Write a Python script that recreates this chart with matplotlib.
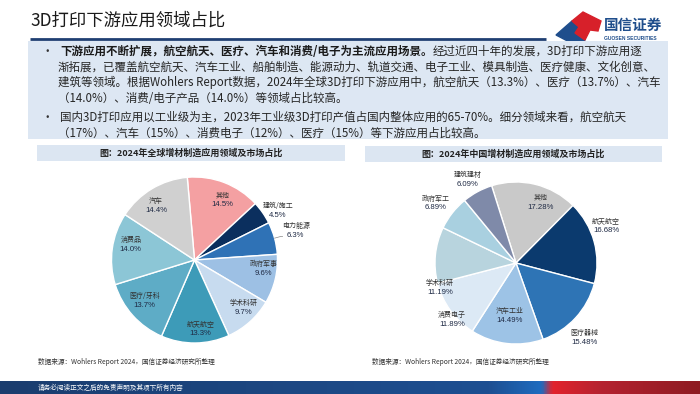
import numpy as np
import matplotlib
matplotlib.use("Agg")
import matplotlib.pyplot as plt
from matplotlib.colors import LinearSegmentedColormap
from matplotlib.patches import Rectangle, Polygon

plt.rcParams['font.family'] = ['Noto Sans CJK SC', 'DejaVu Sans']
CJK = ['Noto Sans CJK SC', 'DejaVu Sans']
NUM = ['Liberation Sans', 'DejaVu Sans']

# 全球 2024
g_names = ["其他", "建筑/施工", "电力能源", "政府军事", "学术科研", "航天航空", "医疗/牙科", "消费品", "汽车"]
g_values = [14.5, 4.5, 6.3, 9.6, 9.7, 13.3, 13.7, 14.0, 14.4]
g_colors = ["#f4a0a2", "#0b2f5e", "#2f72b6", "#9dc0e4", "#c7dbef", "#3d9bb8", "#5eacc6", "#8cc6d6", "#d0d0d0"]

# 中国 2024
c_names = ["其他", "航天航空", "医疗器械", "汽车工业", "消费电子", "学术科研", "政府军工", "建筑建材"]
c_values = [17.28, 16.68, 15.48, 14.49, 11.89, 11.19, 6.89, 6.09]
c_colors = ["#c9c9c9", "#0b3a6e", "#2e74b5", "#9dc3e6", "#dce9f5", "#b8d4de", "#a9d0e0", "#7f8aa9"]

title = "3D打印下游应用领域占比"
g_title = "图：2024年全球增材制造应用领域及市场占比"
c_title = "图：2024年中国增材制造应用领域及市场占比"
source = "数据来源：Wohlers Report 2024，国信证券经济研究所整理"
footer = "请务必阅读正文之后的免责声明及其项下所有内容"

bullet1_bold = "下游应用不断扩展，航空航天、医疗、汽车和消费/电子为主流应用场景。"
bullet1 = ["经过近四十年的发展，3D打印下游应用逐",
           "渐拓展，已覆盖航空航天、汽车工业、船舶制造、能源动力、轨道交通、电子工业、模具制造、医疗健康、文化创意、",
           "建筑等领域。根据Wohlers Report数据，2024年全球3D打印下游应用中，航空航天（13.3%）、医疗（13.7%）、汽车",
           "（14.0%）、消费/电子产品（14.0%）等领域占比较高。"]
bullet2 = ["国内3D打印应用以工业级为主，2023年工业级3D打印产值占国内整体应用的65-70%。细分领域来看，航空航天",
           "（17%）、汽车（15%）、消费电子（12%）、医疗（15%）等下游应用占比较高。"]

W, H = 700, 394
fig = plt.figure(figsize=(7, 3.94), dpi=100)
bg = fig.add_axes([0, 0, 1, 1])
bg.set_xlim(0, W)
bg.set_ylim(H, 0)
bg.axis('off')

# header
bg.text(30, 21, title, fontsize=12.5, weight='medium', color='#1a1a1a', va='center')
bg.plot([30, 546], [38.5, 38.5], color='#1f3f72', lw=2, solid_capstyle='butt')
bg.add_patch(Polygon([(556, 35), (572, 21), (579, 27), (575, 33), (585, 40), (579, 47)], color='#1f4e8c'))
bg.add_patch(Polygon([(572, 21), (583, 12), (601, 21), (598, 31), (590, 30), (585, 40), (575, 33), (579, 27)], color='#d7202a'))
bg.text(604, 25, "国信证券", fontsize=10.5, weight='bold', color='#1f4e8c', va='center')
bg.text(604, 38, "GUOSEN SECURITIES", fontsize=3.6, weight='bold', color='#1f4e8c', va='center', family=NUM)

# bullet box
bg.add_patch(Rectangle((28, 41), 640, 98, color='#dde7f3', lw=0))
fs = 8.3
ys1 = [51, 67, 82.5, 98]
bg.text(42, ys1[0], "•", fontsize=fs, va='center', color='#333333')
t1 = bg.text(60, ys1[0], bullet1_bold, fontsize=fs, weight='bold', va='center', color='#1a1a1a')
bg.annotate(bullet1[0], xy=(1, 0.5), xycoords=t1, va='center', ha='left', fontsize=fs, color='#262626')
for y, line in zip(ys1[1:], bullet1[1:]):
    bg.text(58, y, line, fontsize=fs, va='center', color='#262626')
ys2 = [117.5, 133]
bg.text(42, ys2[0], "•", fontsize=fs, va='center', color='#333333')
for y, line in zip(ys2, bullet2):
    bg.text(60 if y == ys2[0] else 58, y, line, fontsize=fs, va='center', color='#262626')

# chart titles
bg.add_patch(Rectangle((37, 145), 308, 16, color='#dce6f2', lw=0))
bg.text(191, 153, g_title, fontsize=6.5, weight='bold', ha='center', va='center', color='#222222')
bg.add_patch(Rectangle((365, 146), 297, 16, color='#dce6f2', lw=0))
bg.text(513, 154, c_title, fontsize=6.5, weight='bold', ha='center', va='center', color='#222222')

bg.text(38, 362, source, fontsize=4.8, va='center', color='#333333')
bg.text(372, 362, source, fontsize=4.8, va='center', color='#333333')

# footer bar
cmap = LinearSegmentedColormap.from_list('ft', [(0, '#1b3d6e'), (0.70, '#1d4f92'), (0.775, '#1f6cc0'),
                                                (0.79, '#e3232c'), (0.86, '#b52230'), (1.0, '#8e1b22')])
bg.imshow(np.linspace(0, 1, 256).reshape(1, -1), cmap=cmap, aspect='auto', extent=(0, W, 394, 381), zorder=1)
bg.text(38, 387.5, footer, fontsize=4.8, va='center', color='white', zorder=2)
bg.set_xlim(0, W)
bg.set_ylim(H, 0)


def draw_pie(cx, cy, r, names, values, colors, start, fmt, lab_r, lab_da, leader=None):
    L = 1.6
    size = 2 * L * r
    ax = fig.add_axes([(cx - size / 2) / W, (H - cy - size / 2) / H, size / W, size / H])
    ax.pie(values, colors=colors, startangle=start, counterclock=False, radius=1,
           wedgeprops=dict(edgecolor='white', linewidth=1.0))
    ax.set_xlim(-L, L)
    ax.set_ylim(-L, L)
    ax.set_aspect('equal')
    ax.axis('off')
    mids = np.cumsum(values) - np.array(values) / 2
    for i, (n, v) in enumerate(zip(names, values)):
        th = np.deg2rad(start - 3.6 * mids[i] + lab_da[i])
        x, y = lab_r[i] * np.cos(th), lab_r[i] * np.sin(th)
        ax.annotate(n, (x, y), xytext=(0, 3.4), textcoords='offset points', ha='center', va='center',
                    fontsize=5.0, family=CJK, color='#333333')
        ax.annotate(fmt.format(v), (x, y), xytext=(0, -3.4), textcoords='offset points', ha='center',
                    va='center', fontsize=5.6, family=NUM, color='#1f2a44')
    if leader is not None:
        th = np.deg2rad(start - 3.6 * mids[leader])
        ax.plot([1.0 * np.cos(th), 1.08 * np.cos(th), 1.1 * np.cos(th)],
                [1.0 * np.sin(th), 1.08 * np.sin(th), 1.08 * np.sin(th)], color='#888888', lw=0.5)
    return ax


draw_pie(194.5, 260, 83, g_names, g_values, g_colors, 95, "{:.1f}%",
         [0.8, 1.17, 1.27, 0.84, 0.82, 0.83, 0.78, 0.79, 0.8],
         [-4, -4, 1, 6, 4, 4.5, -2.4, -5.6, 4.6], leader=2)
draw_pie(516, 263, 81, c_names, c_values, c_colors, 107.5, "{:.2f}%",
         [0.81, 1.2, 1.25, 0.65, 1.06, 0.99, 1.24, 1.19],
         [-8.7, 7, -5.2, 0, 5.7, 23.7, 1.6, 1.4])

fig.savefig("out.png", dpi=100)
